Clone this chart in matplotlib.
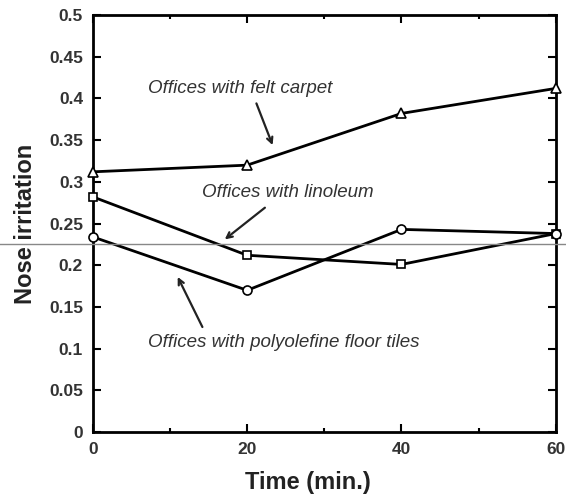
import matplotlib
matplotlib.use("Agg")
import matplotlib.pyplot as plt
from matplotlib.lines import Line2D

plt.rcParams['font.family'] = ['Liberation Sans', 'DejaVu Sans']

# data
time = [0, 20, 40, 60]
felt_carpet = [0.312, 0.320, 0.382, 0.412]
linoleum = [0.282, 0.212, 0.201, 0.238]
polyolefine = [0.234, 0.170, 0.243, 0.238]

yticks = [0, 0.05, 0.1, 0.15, 0.2, 0.25, 0.3, 0.35, 0.4, 0.45, 0.5]
ytick_labels = ['0', '0.05', '0.1', '0.15', '0.2', '0.25', '0.3', '0.35', '0.4', '0.45', '0.5']
xticks = [0, 20, 40, 60]

fig = plt.figure(figsize=(5.66, 4.99), dpi=100)
ax = fig.add_axes([0.164, 0.134, 0.818, 0.836])

ax.plot(time, felt_carpet, color='black', lw=2, marker='^', ms=7,
        mfc='white', mec='black', mew=1.2, clip_on=False, zorder=3)
ax.plot(time, linoleum, color='black', lw=2, marker='s', ms=6,
        mfc='white', mec='black', mew=1.2, clip_on=False, zorder=3)
ax.plot(time, polyolefine, color='black', lw=2, marker='o', ms=6.5,
        mfc='white', mec='black', mew=1.2, clip_on=False, zorder=3)

ax.set_xlim(0, 60)
ax.set_ylim(0, 0.5)
ax.set_xticks(xticks)
ax.set_xticks([10, 30, 50], minor=True)
ax.set_yticks(yticks)
ax.set_yticklabels(ytick_labels)
ax.tick_params(which='both', direction='in', top=True, right=True, width=1.5)
ax.tick_params(which='major', length=6, labelsize=12.5, pad=7)
ax.tick_params(which='minor', length=3)
for lab in ax.get_xticklabels() + ax.get_yticklabels():
    lab.set_fontweight('bold')
    lab.set_color('#333333')
for sp in ax.spines.values():
    sp.set_linewidth(2)

ax.set_xlabel('Time (min.)', fontsize=17, fontweight='bold', color='#222222')
ax.xaxis.set_label_coords(0.464, -0.093)
ax.set_ylabel('Nose irritation', fontsize=17, fontweight='bold', color='#222222')
ax.yaxis.set_label_coords(-0.12, 0.5)

txt = dict(fontsize=13.5, style='italic', color='#333333', va='center')
arrow = dict(arrowstyle='->', color='#222222', lw=1.6, shrinkA=0, shrinkB=0)

ax.text(7.1, 0.412, 'Offices with felt carpet', **txt)
ax.annotate('', xy=(23.3, 0.344), xytext=(21.2, 0.394), arrowprops=arrow)

ax.text(14.2, 0.287, 'Offices with linoleum', **txt)
ax.annotate('', xy=(17.1, 0.231), xytext=(22.3, 0.269), arrowprops=arrow)

ax.text(7.1, 0.107, 'Offices with polyolefine floor tiles', **txt)
ax.annotate('', xy=(11.0, 0.186), xytext=(14.2, 0.126), arrowprops=arrow)

# faint horizontal scan line across the page
fig.add_artist(Line2D([0, 1], [1 - 244 / 499, 1 - 244 / 499], transform=fig.transFigure,
                      color='#888888', lw=1, zorder=5))

fig.savefig('out.png', dpi=100)
